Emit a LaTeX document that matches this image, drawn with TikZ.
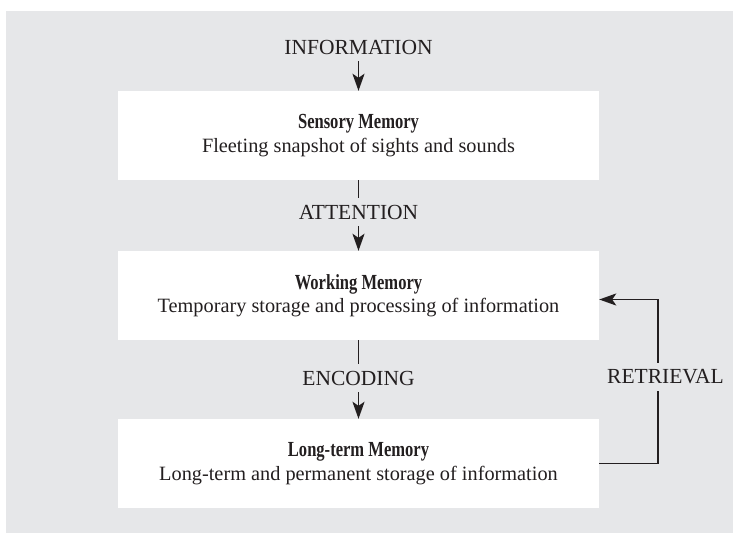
\documentclass[tikz,border=0pt]{standalone}
\usepackage{fontspec}
\setmainfont{Liberation Serif}
\newfontfamily\headfont[FakeStretch=0.77]{Liberation Serif}
\usetikzlibrary{arrows.meta,calc}
\definecolor{bggray}{HTML}{E6E7E9}
\definecolor{ink}{HTML}{231F20}
\newcommand{\boxhead}[1]{{\headfont\bfseries\fontsize{21.5}{23}\selectfont #1}}
\begin{document}
\begin{tikzpicture}[x=1pt,y=-1pt,
  memorybox/.style={fill=white,draw=none,minimum width=481pt,minimum height=89pt,
    align=center,text=ink,font=\fontsize{20.3}{23.5}\selectfont,inner sep=0pt},
  flowlabel/.style={text=ink,font=\fontsize{21.5}{24}\selectfont,inner xsep=2pt,inner ysep=7pt},
  flowline/.style={draw=ink,line width=1.9pt},
  flowarrow/.style={flowline,-{Stealth[length=17pt,width=12pt,inset=4pt]}}]
\useasboundingbox (0,0) rectangle (733,533);
\fill[bggray] (6,11) rectangle (733,533);
\node[memorybox] (sm) at (358.5,135.5) {\boxhead{Sensory Memory}\\Fleeting snapshot of sights and sounds};
\node[memorybox] (wm) at (358.5,295.5) {\boxhead{Working Memory}\\Temporary storage and processing of information};
\node[memorybox] (lt) at (358.5,463.5) {\boxhead{Long-term Memory}\\Long-term and permanent storage of information};
\node[flowlabel] (info) at (358.5,47) {INFORMATION};
\node[flowlabel] (att) at (358.5,212) {ATTENTION};
\node[flowlabel] (enc) at (358.5,378) {ENCODING};
\node[flowlabel] (ret) at (665.5,377) {RETRIEVAL};
\coordinate (rv) at (658,377);
\draw[flowarrow] (info) -- (sm);
\draw[flowline] (sm) -- (att);
\draw[flowarrow] (att) -- (wm);
\draw[flowline] (wm) -- (enc);
\draw[flowarrow] (enc) -- (lt);
\draw[flowline] (lt.east) -| (rv |- ret.south);
\draw[flowarrow] (rv |- ret.north) |- ([yshift=-4pt]wm.east);
\end{tikzpicture}
\end{document}
